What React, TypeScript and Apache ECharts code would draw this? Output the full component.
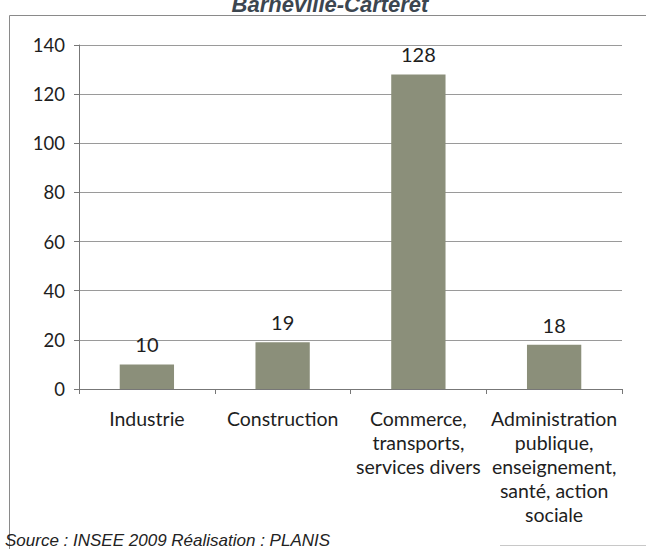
import React, { useEffect, useRef } from "react";
import * as echarts from "echarts";

const title = "Barneville-Carteret";
const source = "Source : INSEE 2009 Réalisation : PLANIS";
const categories = [
  "Industrie",
  "Construction",
  "Commerce,\ntransports,\nservices divers",
  "Administration\npublique,\nenseignement,\nsanté, action\nsociale",
];
const values = [10, 19, 128, 18];
const yMin = 0;
const yMax = 140;
const yInterval = 20;

export default function App() {
  const ref = useRef<HTMLDivElement>(null);
  useEffect(() => {
    if (!ref.current) return;
    const chart = echarts.init(ref.current, null, { renderer: "svg" });
    const font = "Lato, 'Open Sans', sans-serif";
    chart.setOption({
      animation: false,
      backgroundColor: "#ffffff",
      graphic: [
        { type: "line", shape: { x1: 9.5, y1: 15.5, x2: 646, y2: 15.5 }, style: { stroke: "#8a8a8a", lineWidth: 1 } },
        { type: "line", shape: { x1: 9.5, y1: 15.5, x2: 9.5, y2: 549 }, style: { stroke: "#8a8a8a", lineWidth: 1 } },
        { type: "line", shape: { x1: 500, y1: 545.5, x2: 646, y2: 545.5 }, style: { stroke: "#c8c8c8", lineWidth: 1 } },
        {
          type: "text",
          x: 330,
          y: -7,
          style: {
            text: title,
            fill: "#3c4650",
            font: "italic bold 22px Arial, 'Liberation Sans', sans-serif",
            textAlign: "center",
            textVerticalAlign: "top",
          },
        },
        {
          type: "text",
          x: 5,
          y: 540,
          style: {
            text: source,
            fill: "#222",
            font: "italic 17px Arial, 'Liberation Sans', sans-serif",
            textAlign: "left",
            textVerticalAlign: "middle",
          },
        },
      ],
      grid: { left: 79, right: 24, top: 45, bottom: 160 },
      xAxis: {
        type: "category",
        data: categories,
        axisLine: { show: true, lineStyle: { color: "#777", width: 1 } },
        axisTick: { show: true, alignWithLabel: false, length: 5, lineStyle: { color: "#777" } },
        axisLabel: {
          interval: 0,
          color: "#1e1e1e",
          fontFamily: font,
          fontSize: 19.5,
          lineHeight: 24,
          margin: 17,
        },
      },
      yAxis: {
        type: "value",
        min: yMin,
        max: yMax,
        interval: yInterval,
        axisLine: { show: true, lineStyle: { color: "#777", width: 1 } },
        axisTick: { show: true, length: 5, lineStyle: { color: "#777" } },
        axisLabel: { color: "#1e1e1e", fontFamily: font, fontSize: 18.5, margin: 14 },
        splitLine: { show: true, lineStyle: { color: "#9a9a9a", width: 1 } },
      },
      series: [
        {
          type: "bar",
          data: values,
          barWidth: "40%",
          itemStyle: { color: "#8b8f7a" },
          label: {
            show: true,
            position: "top",
            distance: 10,
            color: "#1e1e1e",
            fontFamily: font,
            fontSize: 20,
          },
        },
      ],
    });
    return () => chart.dispose();
  }, []);
  return <div ref={ref} style={{ width: 646, height: 549, position: "fixed", left: 0, top: 0 }} />;
}
